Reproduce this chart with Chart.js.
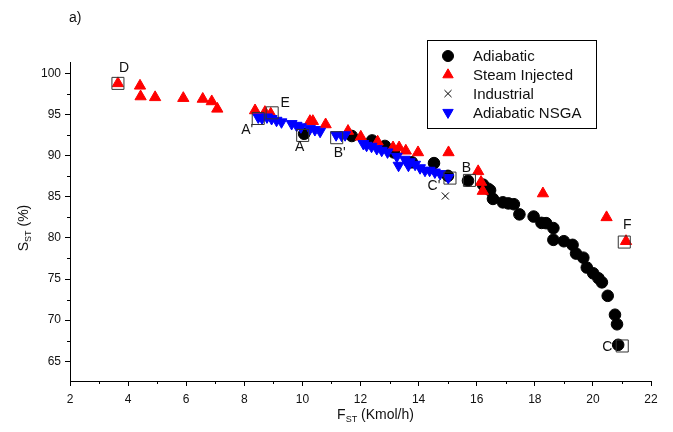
<!DOCTYPE html>
<html>
<head>
<meta charset="utf-8">
<script src="https://cdn.jsdelivr.net/npm/chart.js@4.4.0/dist/chart.umd.min.js"></script>
<style>
  html, body { margin: 0; padding: 0; background: #fff; }
  canvas { display: block; }
</style>
</head>
<body>
<canvas id="chart" width="673" height="432"></canvas>
<script>
// ── DATA ──
const xTicks = [2, 4, 6, 8, 10, 12, 14, 16, 18, 20, 22];
const yTicks = [65, 70, 75, 80, 85, 90, 95, 100];

const adiabatic = [
  [10.06,92.67],[11.70,92.40],[12.40,91.86],[12.84,91.19],[13.15,90.40],[13.77,89.20],
  [14.53,89.10],[15.01,87.55],[15.70,86.96],[16.22,86.48],[16.39,85.99],[16.46,85.80],
  [16.56,84.75],[16.90,84.33],[17.09,84.20],[17.28,84.10],[17.47,82.87],[17.96,82.60],
  [18.23,81.83],[18.39,81.80],[18.64,81.20],[18.64,79.77],[19.00,79.60],[19.30,79.16],
  [19.42,78.10],[19.67,77.60],[19.79,76.40],[20.01,75.70],[20.19,75.10],[20.31,74.60],
  [20.51,72.96],[20.76,70.66],[20.83,69.50],[20.87,67.00]
];

const steamInjected = [
  [3.65,98.80],[4.41,98.50],[4.43,97.20],[4.93,97.10],[5.90,97.00],[6.57,96.90],
  [6.88,96.60],[7.07,95.70],[8.37,95.50],[8.71,95.30],[8.91,95.10],[10.26,94.20],
  [10.36,94.20],[10.80,93.80],[11.57,93.00],[12.01,92.30],[12.59,91.70],[13.12,91.00],
  [13.33,91.00],[13.56,90.60],[13.98,90.40],[15.03,90.40],[16.05,88.10],[16.15,86.80],
  [16.21,85.70],[18.28,85.40],[20.47,82.50],[21.14,79.60]
];

const industrial = [[14.92,85.10]];

const adiabaticNSGA = [
  [8.48,94.69],[8.61,94.57],[8.78,94.70],[8.94,94.50],[9.11,94.29],[9.28,94.10],
  [9.63,93.89],[9.80,93.68],[9.95,93.50],[10.26,93.28],[10.43,93.16],[10.61,92.95],
  [11.16,92.53],[11.35,92.47],[11.47,92.53],[12.10,91.46],[12.21,91.25],[12.38,91.13],
  [12.56,90.85],[12.73,90.64],[12.93,90.44],[13.25,89.91],[13.31,88.82],[13.53,89.55],
  [13.70,89.25],[13.65,88.82],[13.88,88.94],[14.05,88.52],[14.22,88.21],[14.38,88.21],
  [14.56,88.00],[14.74,87.81],[15.02,87.33]
];

// highlighted points (open squares) and their letters
const markedPoints = [
  [3.65,98.80],[8.48,94.53],[8.96,95.22],[10.01,92.47],[11.18,92.19],
  [15.08,87.28],[15.75,87.00],[21.08,79.50],[21.01,66.86]
];
const markedLabels = ['D', "A'", 'E', 'A', "B'", "C'", 'B', 'F', 'C'];
// label offset from its square, px
const labelOffsets = [[6,-15],[-11,12],[13,-10],[-3,12],[3,15],[-16,8],[-3,-12],[3,-17],[-15,1]];

// ── STYLE ──
const FONT = '"Liberation Sans", Arial, Helvetica, sans-serif';
const BLUE = '#0000ff', RED = '#ff0000', BLACK = '#000000';
const pts = a => a.map(p => ({ x: p[0], y: p[1] }));

const legendItems = [
  { text: 'Adiabatic',      style: 'circle',   rot: 0,   r: 5.5, fill: BLACK, stroke: BLACK },
  { text: 'Steam Injected', style: 'triangle', rot: 0,   r: 6,   fill: RED,   stroke: RED },
  { text: 'Industrial',     style: 'crossRot', rot: 0,   r: 5,   fill: null,  stroke: BLACK },
  { text: 'Adiabatic NSGA', style: 'triangle', rot: 180, r: 6,   fill: BLUE,  stroke: BLUE }
];

// ── DECORATIONS: minor ticks, titles, letters, legend box ──
const decor = {
  id: 'decor',
  afterDraw(chart) {
    const { ctx, chartArea: ca, scales: { x, y } } = chart;
    ctx.save();
    ctx.strokeStyle = BLACK;
    ctx.lineWidth = 1;

    // minor ticks
    ctx.beginPath();
    for (let v = 3; v < 22; v += 2) {
      const px = Math.round(x.getPixelForValue(v)) + 0.5;
      ctx.moveTo(px, ca.bottom); ctx.lineTo(px, ca.bottom + 3);
    }
    for (let v = 67.5; v < 101.5; v += 5) {
      const py = Math.round(y.getPixelForValue(v)) + 0.5;
      ctx.moveTo(ca.left, py); ctx.lineTo(ca.left - 3, py);
    }
    ctx.stroke();

    ctx.fillStyle = '#111';
    ctx.textBaseline = 'alphabetic';

    // x title: F_ST (Kmol/h)
    const xt = (ca.left + ca.right) / 2 + 15, xty = 419;
    ctx.font = '14px ' + FONT;
    const wF = ctx.measureText('F').width;
    ctx.font = '9px ' + FONT;
    const wSub = ctx.measureText('ST').width;
    ctx.font = '14px ' + FONT;
    const wRest = ctx.measureText(' (Kmol/h)').width;
    let sx = xt - (wF + wSub + wRest) / 2;
    ctx.textAlign = 'left';
    ctx.fillText('F', sx, xty);
    ctx.font = '9px ' + FONT;
    ctx.fillText('ST', sx + wF, xty + 3);
    ctx.font = '14px ' + FONT;
    ctx.fillText(' (Kmol/h)', sx + wF + wSub, xty);

    // y title: S_ST (%)
    ctx.save();
    ctx.translate(28, 228);
    ctx.rotate(-Math.PI / 2);
    const wS = ctx.measureText('S').width;
    ctx.font = '9px ' + FONT;
    const wSub2 = ctx.measureText('ST').width;
    ctx.font = '14px ' + FONT;
    const wP = ctx.measureText(' (%)').width;
    let sy = -(wS + wSub2 + wP) / 2;
    ctx.fillText('S', sy, 0);
    ctx.font = '9px ' + FONT;
    ctx.fillText('ST', sy + wS, 3);
    ctx.font = '14px ' + FONT;
    ctx.fillText(' (%)', sy + wS + wSub2, 0);
    ctx.restore();

    // panel tag
    ctx.font = '14px ' + FONT;
    ctx.textAlign = 'left';
    ctx.fillText('a)', 69, 22);

    // point letters
    ctx.textAlign = 'center';
    ctx.textBaseline = 'middle';
    ctx.font = '14px ' + FONT;
    markedPoints.forEach((p, i) => {
      const px = x.getPixelForValue(p[0]) + labelOffsets[i][0];
      const py = y.getPixelForValue(p[1]) + labelOffsets[i][1];
      ctx.fillText(markedLabels[i], px, py);
    });

    // legend box
    const bx = 427.5, by = 40.5, bw = 169, bh = 88;
    ctx.strokeStyle = BLACK;
    ctx.strokeRect(bx, by, bw, bh);
    ctx.font = '15px ' + FONT;
    ctx.textAlign = 'left';
    legendItems.forEach((it, i) => {
      const ly = 56 + i * 18.8;
      ctx.fillStyle = it.fill || 'rgba(0,0,0,0)';
      ctx.strokeStyle = it.stroke;
      Chart.helpers.drawPoint(ctx, { pointStyle: it.style, rotation: it.rot, radius: it.r, borderWidth: 1 }, 448, ly);
      ctx.fillStyle = '#111';
      ctx.fillText(it.text, 473, ly + 1);
    });

    ctx.restore();
  }
};

// ── CHART ──
const tickFont = { family: FONT, size: 12 };

new Chart(document.getElementById('chart'), {
  type: 'scatter',
  data: {
    datasets: [
      { label: 'marked', data: pts(markedPoints), pointStyle: 'rect', pointRadius: 8.5,
        backgroundColor: 'rgba(0,0,0,0)', borderColor: '#333', pointBorderWidth: 1, order: 0 },
      { label: 'Adiabatic NSGA', data: pts(adiabaticNSGA), pointStyle: 'triangle', rotation: 180,
        pointRadius: 6.3, backgroundColor: BLUE, borderColor: BLUE, order: 1 },
      { label: 'Industrial', data: pts(industrial), pointStyle: 'crossRot', pointRadius: 5,
        backgroundColor: BLACK, borderColor: BLACK, pointBorderWidth: 1, order: 2 },
      { label: 'Steam Injected', data: pts(steamInjected), pointStyle: 'triangle',
        pointRadius: 6.5, backgroundColor: RED, borderColor: RED, order: 3 },
      { label: 'Adiabatic', data: pts(adiabatic), pointStyle: 'circle',
        pointRadius: 5.8, backgroundColor: BLACK, borderColor: BLACK, order: 4 }
    ]
  },
  options: {
    responsive: false,
    animation: false,
    devicePixelRatio: 1,
    events: [],
    layout: { padding: { top: 62, right: 22, left: 0, bottom: 0 } },
    plugins: { legend: { display: false }, tooltip: { enabled: false } },
    scales: {
      x: {
        type: 'linear', min: 2, max: 22,
        afterBuildTicks: s => { s.ticks = xTicks.map(v => ({ value: v })); },
        afterFit: s => { s.height = 51; },
        grid: { drawOnChartArea: false, tickLength: 5, color: BLACK },
        border: { color: BLACK, width: 1 },
        ticks: { color: '#111', font: tickFont, padding: 6, maxRotation: 0, autoSkip: false }
      },
      y: {
        type: 'linear', min: 62.6, max: 101.4,
        afterBuildTicks: s => { s.ticks = yTicks.map(v => ({ value: v })); },
        afterFit: s => { s.width = 70; },
        grid: { drawOnChartArea: false, tickLength: 5, color: BLACK },
        border: { color: BLACK, width: 1 },
        ticks: { color: '#111', font: tickFont, padding: 4, autoSkip: false }
      }
    }
  },
  plugins: [decor]
});
</script>
</body>
</html>
